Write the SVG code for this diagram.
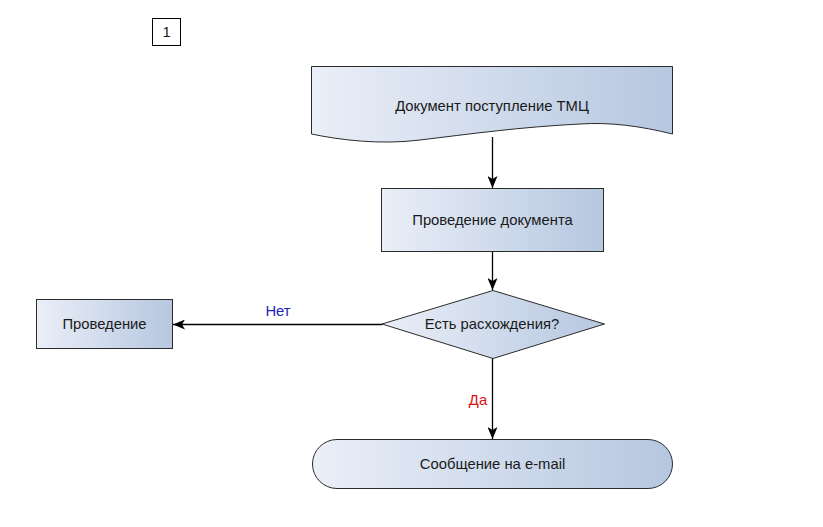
<svg xmlns="http://www.w3.org/2000/svg" width="823" height="527" viewBox="0 0 823 527">
  <defs>
    <linearGradient id="fill" x1="0" y1="0" x2="1" y2="0">
      <stop offset="0" stop-color="#eaeff8"/>
      <stop offset="1" stop-color="#b6c7e0"/>
    </linearGradient>
    <marker id="arrow" viewBox="0 0 12 10" refX="12" refY="5" markerWidth="12" markerHeight="10" markerUnits="userSpaceOnUse" orient="auto">
      <path d="M0,0 L12,5 L0,10 L3,5 Z" fill="#000"/>
    </marker>
    <style>
      .shape { fill: url(#fill); stroke: #2b2b2b; stroke-width: 1; }
      .label { font-family: "Liberation Sans", Arial, sans-serif; font-size: 14.8px; fill: #1a1a1a; text-anchor: middle; dominant-baseline: central; }
      .edge { fill: none; stroke: #000; stroke-width: 1.3; marker-end: url(#arrow); }
      .edge-label { font-family: "Liberation Sans", Arial, sans-serif; font-size: 14.8px; text-anchor: middle; dominant-baseline: central; }
    </style>
  </defs>

  <g id="page-number">
    <rect x="152.5" y="18.5" width="28" height="27" fill="#fff" stroke="#000" stroke-width="1"/>
    <text class="label" x="166.5" y="32">1</text>
  </g>

  <g id="doc-receipt">
    <path class="shape" d="M311.5,66.5 L672.5,66.5 L672.5,134 C640,126 610,122 580,124 C520,127 470,134 420,140 C380,145 340,140 311.5,134 Z"/>
    <text class="label" x="492" y="106">Документ поступление ТМЦ</text>
  </g>

  <g id="post-document">
    <rect class="shape" x="381.5" y="188.5" width="222" height="63"/>
    <text class="label" x="492.5" y="220">Проведение документа</text>
  </g>

  <g id="check-discrepancy">
    <path class="shape" d="M493,290.5 L604.5,324 L493,358.5 L382,324 Z"/>
    <text class="label" x="492" y="324">Есть расхождения?</text>
  </g>

  <g id="posting">
    <rect class="shape" x="36.5" y="299.5" width="136" height="49"/>
    <text class="label" x="104.5" y="324">Проведение</text>
  </g>

  <g id="email-message">
    <rect class="shape" x="312.5" y="439.5" width="360" height="49" rx="24.5" ry="24.5"/>
    <text class="label" x="492.5" y="464">Сообщение на e-mail</text>
  </g>

  <g id="connectors">
    <path class="edge" d="M492.5,137 L492.5,188"/>
    <path class="edge" d="M492.5,252 L492.5,290"/>
    <path class="edge" d="M382,324.5 L173,324.5"/>
    <text class="edge-label" x="278" y="311" fill="#2222bb">Нет</text>
    <path class="edge" d="M492.5,358.5 L492.5,439"/>
    <text class="edge-label" x="478" y="400" fill="#dd1111">Да</text>
  </g>
</svg>
